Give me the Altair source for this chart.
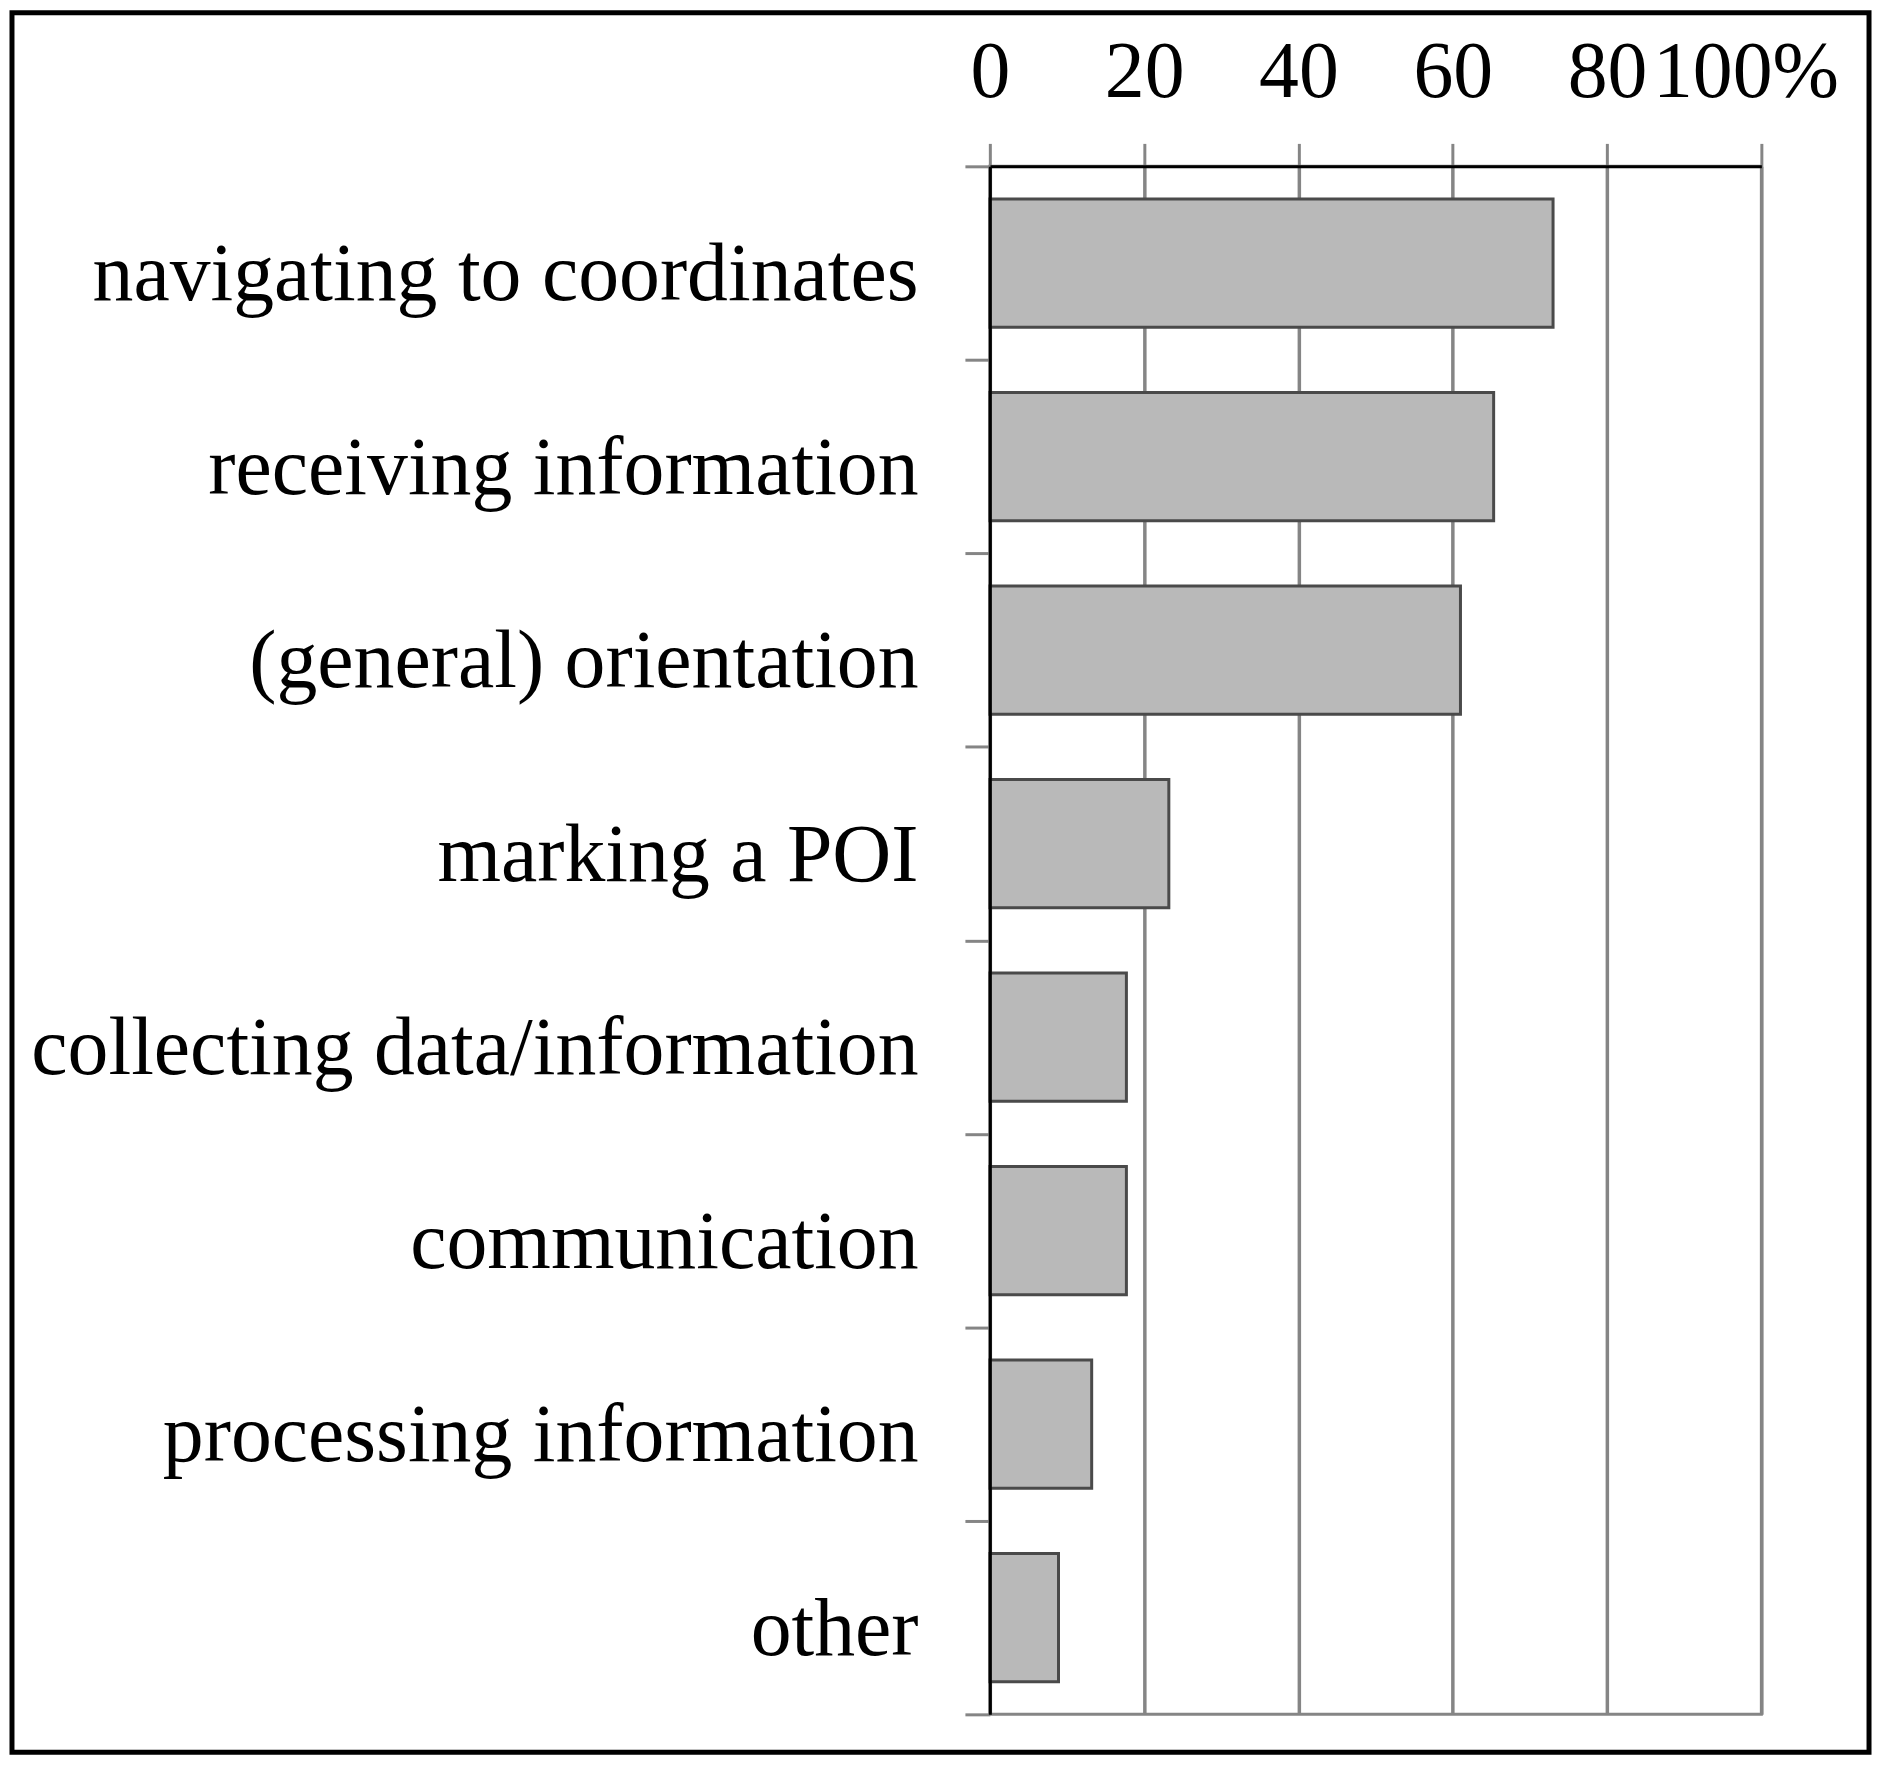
import altair as alt
import pandas as pd

categories = [
    "navigating to coordinates",
    "receiving information",
    "(general) orientation",
    "marking a POI",
    "collecting data/information",
    "communication",
    "processing information",
    "other",
]
values = [73.0, 65.3, 61.0, 23.2, 17.7, 17.7, 13.2, 8.9]
x_ticks = [0, 20, 40, 60, 80, 100]

df = pd.DataFrame({"task": categories, "pct": values})

W, H = 774, 1553
FONT = "Liberation Serif"
GRID = "#858585"

bars = alt.Chart(df).mark_bar(
    fill="#b9b9b9", stroke="#4a4a4a", strokeWidth=3, height={"band": 0.663}
).encode(
    x=alt.X(
        "pct:Q",
        scale=alt.Scale(domain=[0, 100], nice=False),
        axis=alt.Axis(
            orient="top",
            values=x_ticks,
            title=None,
            grid=True,
            gridColor=GRID,
            gridWidth=3.5,
            gridOpacity=1,
            domainColor="black",
            domainWidth=3,
            tickColor=GRID,
            tickWidth=3,
            tickSize=23,
            labelFont=FONT,
            labelFontSize=80,
            labelColor="black",
            labelPadding=30,
            labelLimit=1000,
            labelOverlap=False,
            labelFlush=False,
            labelExpr="datum.value == 100 ? '100%' : datum.label",
            labelOffset={"condition": {"test": "datum.value === 100", "value": -16}, "value": 0},
        ),
    ),
    y=alt.Y(
        "task:N",
        sort=categories,
        scale=alt.Scale(paddingInner=0, paddingOuter=0),
        axis=alt.Axis(
            title=None,
            domainColor="black",
            domainWidth=3,
            tickColor=GRID,
            tickWidth=3,
            tickSize=25,
            tickBand="extent",
            labelFont=FONT,
            labelFontSize=82,
            labelColor="black",
            labelLimit=2000,
            labelPadding=47,
            labelOffset=12,
            zindex=1,
        ),
    ),
)

frame = alt.Chart(pd.DataFrame({"k": [0]})).mark_rect(
    filled=False, stroke="black", strokeWidth=5
).encode(
    x=alt.value(-981), x2=alt.value(882), y=alt.value(-154), y2=alt.value(1591)
)

chart = alt.layer(bars, frame).properties(
    width=W,
    height=H,
    autosize=alt.AutoSizeParams(type="none"),
    padding={"left": 985, "top": 156, "right": 113, "bottom": 50},
    background="white",
).configure_view(stroke=GRID, strokeWidth=3)

chart.save("out.html", embed_options={"renderer": "svg", "actions": False})
